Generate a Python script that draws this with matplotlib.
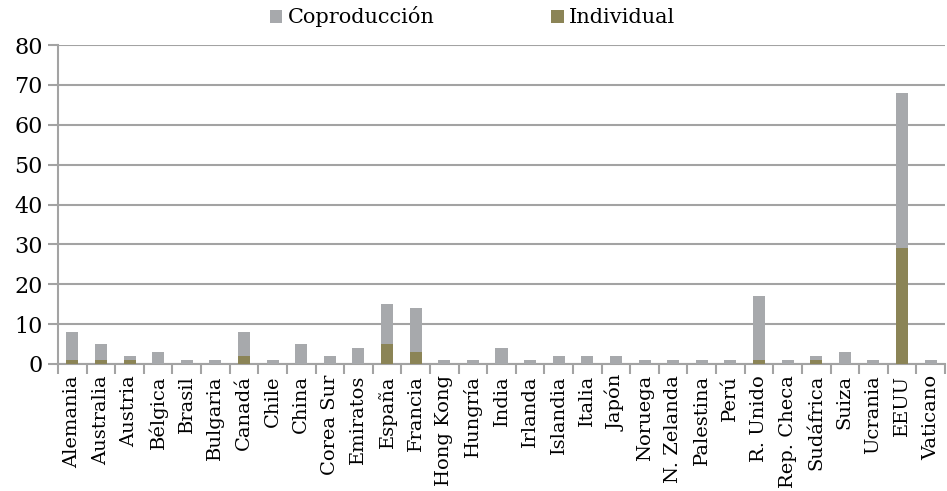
import matplotlib
matplotlib.use("Agg")
import matplotlib.pyplot as plt
import numpy as np

countries = ["Alemania", "Australia", "Austria", "Bélgica", "Brasil", "Bulgaria", "Canadá",
             "Chile", "China", "Corea Sur", "Emiratos", "España", "Francia", "Hong Kong",
             "Hungría", "India", "Irlanda", "Islandia", "Italia", "Japón", "Noruega",
             "N. Zelanda", "Palestina", "Perú", "R. Unido", "Rep. Checa", "Sudáfrica",
             "Suiza", "Ucrania", "EEUU", "Vaticano"]
individual = [1, 1, 1, 0, 0, 0, 2, 0, 0, 0, 0, 5, 3, 0, 0, 0, 0, 0, 0, 0, 0, 0, 0, 0, 1, 0, 1, 0, 0, 29, 0]
coproduccion = [7, 4, 1, 3, 1, 1, 6, 1, 5, 2, 4, 10, 11, 1, 1, 4, 1, 2, 2, 2, 1, 1, 1, 1, 16, 1, 1, 3, 1, 39, 1]

plt.rcParams['font.family'] = ['DejaVu Serif']
fig = plt.figure(figsize=(9.47, 4.91), dpi=100)
ax = fig.add_axes([58/947, 1-364/491, 887/947, (364-45)/491])

grid_c = "#A3A3A3"
x = np.arange(len(countries))
ax.bar(x, individual, width=0.42, color="#8B8456", label="Individual", zorder=3)
ax.bar(x, coproduccion, width=0.42, bottom=individual, color="#A7A9AC", label="Coproducción", zorder=3)

ax.set_xlim(-0.5, len(countries) - 0.5)
ax.set_ylim(0, 80)
ax.set_yticks(range(0, 81, 10))
ax.yaxis.grid(True, color=grid_c, linewidth=1.5, zorder=0)
ax.set_axisbelow(True)
for s in ["top", "right"]:
    ax.spines[s].set_visible(False)
for s in ["left", "bottom"]:
    ax.spines[s].set_color(grid_c)
    ax.spines[s].set_linewidth(1.5)

ax.set_xticks(x)
ax.set_xticklabels(countries, rotation=90, fontsize=14)
ax.tick_params(axis="x", length=0, pad=8)
ax.set_xticks(np.arange(-0.5, len(countries), 1), minor=True)
ax.tick_params(axis="x", which="minor", length=7, width=1.5, color=grid_c)
ax.tick_params(axis="y", length=7, width=1.5, color=grid_c, labelsize=16, pad=4)

h, l = ax.get_legend_handles_labels()
leg = fig.legend(h[::-1], l[::-1], loc="upper center", bbox_to_anchor=(0.499, 1.025), ncol=2,
                 frameon=False, fontsize=15, handlelength=0.6, handleheight=0.6,
                 handletextpad=0.25, columnspacing=5.6)

fig.savefig("out.png", dpi=100)
